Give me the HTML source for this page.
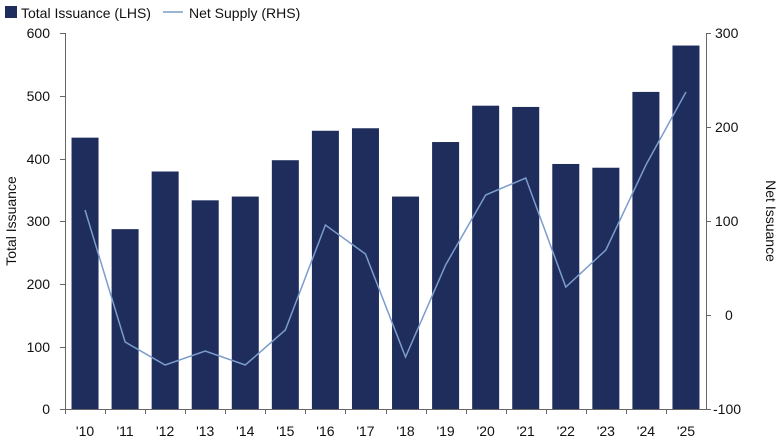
<!DOCTYPE html>
<html><head><meta charset="utf-8"><style>body{margin:0;background:#fff}svg{display:block}text{font-family:"Liberation Sans",sans-serif;font-size:14px;fill:#111}</style></head><body>
<svg width="780" height="440" xmlns="http://www.w3.org/2000/svg">
<rect x="5" y="6" width="12" height="12" fill="#1f2d5c"/>
<text x="21" y="18">Total Issuance (LHS)</text>
<line x1="163" y1="12" x2="183" y2="12" stroke="#7b9ccc" stroke-width="1.5"/>
<text x="189" y="18">Net Supply (RHS)</text>
<g stroke="#666" stroke-width="1" fill="none">
<path d="M65.5 33V409.5H706.5V33"/>
<path d="M60 33.5H65M60 96.5H65M60 159.5H65M60 221.5H65M60 284.5H65M60 347.5H65M60 409.5H65"/>
<path d="M706 33.5H711M706 127.5H711M706 221.5H711M706 315.5H711M706 409.5H711"/>
</g>
<g id="xt" stroke="#666"></g>
<g font-size="14" text-anchor="end">
<text x="50" y="38">600</text><text x="50" y="101">500</text><text x="50" y="164">400</text><text x="50" y="226">300</text><text x="50" y="289">200</text><text x="50" y="352">100</text><text x="50" y="414">0</text>
</g>
<g text-anchor="start">
<text x="715" y="38">300</text><text x="715" y="132">200</text><text x="715" y="226">100</text><text x="725" y="320">0</text><text x="713" y="414">-100</text>
</g>
<text transform="translate(16,221) rotate(-90)" text-anchor="middle">Total Issuance</text>
<text transform="translate(766,221) rotate(90)" text-anchor="middle">Net Issuance</text>
<g id="bars" fill="#1f2d5c"></g>
<g id="lbl" text-anchor="middle"></g>
<polyline id="ln" fill="none" stroke="#7b9ccc" stroke-width="1.5"/>
<script>
var v=[433,287,379,333,339,397,444,448,339,426,484,482,391,385,506,580];
var ly=[210,342,365,351,365,330,225,254,357,265,195,178,287,250,165,92];
var ns="http://www.w3.org/2000/svg",b=document.getElementById('bars'),l=document.getElementById('lbl'),t=document.getElementById('xt'),pts=[];
var w=(706-65)/16;
for(var i=0;i<16;i++){var x0=65+i*w,cx=x0+w/2,h=v[i]*376/600;
var r=document.createElementNS(ns,'rect');r.setAttribute('x',cx-13.5);r.setAttribute('y',409-h);r.setAttribute('width',27);r.setAttribute('height',h);b.appendChild(r);
var s=document.createElementNS(ns,'text');s.setAttribute('x',cx);s.setAttribute('y',436);s.textContent="'"+(10+i);l.appendChild(s);
var k=document.createElementNS(ns,'line');k.setAttribute('x1',Math.round(x0)+.5);k.setAttribute('x2',Math.round(x0)+.5);k.setAttribute('y1',409);k.setAttribute('y2',414);t.appendChild(k);
pts.push(cx+','+ly[i]);}
document.getElementById('ln').setAttribute('points',pts.join(' '));
</script>
</svg></body></html>
